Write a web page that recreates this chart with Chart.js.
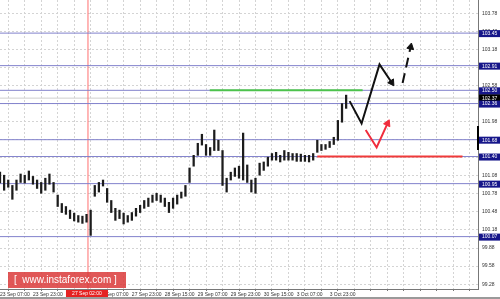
<!DOCTYPE html>
<html>
<head>
<meta charset="utf-8">
<script src="https://cdn.jsdelivr.net/npm/chart.js@4.4.0/dist/chart.umd.min.js"></script>
<style>
html, body { margin: 0; padding: 0; background: #fff; }
canvas { display: block; }
</style>
</head>
<body>
<canvas id="chart" width="500" height="299"></canvas>
<script>
// H1 chart, one bar kept every 2 hours (x = trading hour from 23 Sep 07:00)
const highs = [101.14, 101.09, 101.01, 100.92, 101.01, 101.11, 101.09, 101.16, 101.07, 101.01,
    100.97, 101.04, 101.11, 100.97, 100.76, 100.62, 100.57, 100.51, 100.46, 100.42,
    100.41, 100.44, 100.51, 100.92, 100.97, 101.01, 100.87, 100.67, 100.54, 100.51,
    100.46, 100.42, 100.47, 100.54, 100.59, 100.67, 100.71, 100.76, 100.79, 100.76,
    100.71, 100.64, 100.71, 100.76, 100.81, 100.92, 101.21, 101.42, 101.62, 101.77,
    101.60, 101.55, 101.84, 101.67, 101.50, 101.04, 101.14, 101.21, 101.24, 101.79,
    101.26, 101.01, 101.04, 101.29, 101.31, 101.39, 101.45, 101.47, 101.42, 101.50,
    101.47, 101.45, 101.45, 101.44, 101.42, 101.42, 101.45, 101.67, 101.60, 101.60,
    101.65, 101.72, 102.00, 102.28, 102.42];
const lows = [100.96, 100.84, 100.89, 100.69, 100.84, 100.97, 100.96, 101.01, 100.94, 100.87,
    100.79, 100.84, 100.94, 100.81, 100.57, 100.47, 100.44, 100.37, 100.33, 100.31,
    100.29, 100.31, 100.09, 100.74, 100.81, 100.91, 100.64, 100.47, 100.34, 100.37,
    100.28, 100.31, 100.34, 100.41, 100.47, 100.54, 100.57, 100.64, 100.67, 100.64,
    100.57, 100.47, 100.54, 100.61, 100.71, 100.74, 100.97, 101.24, 101.42, 101.59,
    101.42, 101.42, 101.50, 101.50, 100.92, 100.81, 101.01, 101.07, 101.04, 101.01,
    100.97, 100.81, 100.79, 101.09, 101.17, 101.24, 101.34, 101.34, 101.31, 101.34,
    101.34, 101.34, 101.32, 101.32, 101.32, 101.31, 101.34, 101.47, 101.50, 101.52,
    101.55, 101.60, 101.67, 101.97, 102.20];

const timeLabels = ['23 Sep 07:00', '23 Sep 23:00', '26 Sep 15:00', '27 Sep 07:00', '27 Sep 23:00',
    '28 Sep 15:00', '29 Sep 07:00', '29 Sep 23:00', '30 Sep 15:00', '3 Oct 07:00', '3 Oct 23:00'];
const priceTicks = [99.28, 99.58, 99.88, 100.18, 100.48, 100.78, 101.08, 101.38, 101.68, 101.98,
    102.28, 102.58, 102.88, 103.18, 103.48, 103.78];

const levels = [103.45, 102.91, 102.50, 102.28, 101.68, 101.40, 100.95, 100.07];
const levelLabels = ['103.45', '102.91', '102.50', '102.36', '101.68', '101.40', '100.95', '100.07'];
const lastPrice = 102.37;
const markerTime = 42.7;
const markerLabel = '27 Sep 02:00';

// drawn forecast paths [hour, price]
const greenZone = [[101.8, 102.50], [176, 102.50]];
const redZone = [[154, 101.40], [224.5, 101.40]];
const blackPath = [[169.7, 102.32], [175.5, 101.95], [184.2, 102.93], [190.1, 102.63]];
const blackDash = [[195.4, 102.62], [199.3, 103.22]];
const redPath = [[177.5, 101.84], [182.8, 101.55], [188.1, 101.95]];

const X_MAX = 232, Y_MIN = 99.2, Y_MAX = 104.0;
const FONT = 'Liberation Sans';

const pts = arr => arr.map(p => ({ x: p[0], y: p[1] }));

function lineSet(data, color, width, extra) {
    return Object.assign({
        type: 'line', data: data, borderColor: color, backgroundColor: color,
        borderWidth: width, pointRadius: 0, tension: 0, order: 2
    }, extra || {});
}

function arrowSet(data, color, rotation, extra) {
    const n = data.length;
    return lineSet(pts(data), color, 2, Object.assign({
        pointStyle: 'triangle',
        pointRadius: data.map((p, i) => i === n - 1 ? 4 : 0),
        pointRotation: rotation,
        pointBorderWidth: 1,
        order: 0
    }, extra || {}));
}

const datasets = [];
levels.forEach(v => {
    datasets.push(lineSet([{ x: 0, y: v }, { x: X_MAX, y: v }], '#8282cc', 1, { order: 3 }));
});
datasets.push(lineSet([{ x: 0, y: lastPrice }, { x: X_MAX, y: lastPrice }], '#cfcfcf', 1, { order: 4 }));
datasets.push(lineSet([{ x: markerTime, y: Y_MIN }, { x: markerTime, y: Y_MAX }], '#ff7070', 1, { order: 3 }));
datasets.push(lineSet(pts(greenZone), '#4cc24c', 2, { order: 1 }));
datasets.push(lineSet(pts(redZone), '#f03a3a', 2, { order: 1 }));
datasets.push({
    type: 'bar',
    data: highs.map((h, i) => ({ x: i * 2, y: [lows[i], h] })),
    backgroundColor: '#1c1c1c',
    barThickness: 1.6,
    order: 1
});
datasets.push(arrowSet(blackPath, '#111', 146));
datasets.push(arrowSet(blackDash, '#111', 12, { borderDash: [10, 6] }));
datasets.push(arrowSet(redPath, '#f02c3c', 25));

const overlay = {
    id: 'overlay',
    afterDraw(chart) {
        const ctx = chart.ctx;
        const y = chart.scales.y, x = chart.scales.x;
        const area = chart.chartArea;
        ctx.save();
        ctx.font = '5px "' + FONT + '"';
        ctx.textBaseline = 'middle';
        // current price box
        let py = y.getPixelForValue(lastPrice);
        ctx.fillStyle = '#000';
        ctx.fillRect(area.right + 1, py - 4, 21, 7);
        ctx.fillStyle = '#fff';
        ctx.fillText(lastPrice.toFixed(2), area.right + 4, py);
        // level boxes
        levels.forEach((v, i) => {
            const ly = y.getPixelForValue(v);
            ctx.fillStyle = '#16168a';
            ctx.fillRect(area.right + 1, ly - 3, 21, 7);
            ctx.fillStyle = '#fff';
            ctx.fillText(levelLabels[i], area.right + 4, ly + 0.5);
        });
        // scroll marker on the price axis
        ctx.fillStyle = '#000';
        ctx.fillRect(area.right - 1, 126, 2, 24);
        // marker time box under the axis
        const mx = x.getPixelForValue(markerTime);
        ctx.fillStyle = '#e52222';
        ctx.fillRect(mx - 22, area.bottom + 1, 42, 7);
        ctx.fillStyle = '#fff';
        ctx.textAlign = 'center';
        ctx.fillText(markerLabel, mx - 1, area.bottom + 4.5);
        // watermark
        ctx.fillStyle = 'rgba(218, 58, 58, 0.85)';
        ctx.fillRect(8, 272, 118, 16);
        ctx.fillStyle = '#fff';
        ctx.font = '10px "Liberation Sans"';
        ctx.textAlign = 'left';
        ctx.fillText('[  www.instaforex.com ]', 14, 280.5);
        // bottom frame
        ctx.fillStyle = '#9a9a9a';
        ctx.fillRect(0, 297, 500, 2);
        ctx.restore();
    }
};

new Chart(document.getElementById('chart'), {
    type: 'bar',
    data: { datasets: datasets },
    options: {
        responsive: false,
        animation: false,
        layout: { padding: 0, autoPadding: false },
        plugins: { legend: { display: false }, tooltip: { enabled: false } },
        scales: {
            x: {
                type: 'linear', min: 0, max: X_MAX, offset: false,
                afterBuildTicks: s => {
                    const t = [];
                    for (let v = 0; v <= X_MAX; v += 8) t.push({ value: v });
                    s.ticks = t;
                },
                afterFit: s => { s.height = 10; s.paddingLeft = 0; s.paddingRight = 0; },
                grid: { color: '#d4d4d4', tickLength: 2, tickColor: '#777' },
                border: { color: '#777', dash: [2, 2] },
                ticks: {
                    align: 'start', maxRotation: 0, autoSkip: false, padding: 1,
                    color: '#333', font: { size: 5, family: FONT },
                    callback: v => (v % 16 === 0 && timeLabels[v / 16]) ? timeLabels[v / 16] : ''
                }
            },
            y: {
                position: 'right', min: Y_MIN, max: Y_MAX,
                afterBuildTicks: s => { s.ticks = priceTicks.map(v => ({ value: v })); },
                afterFit: s => { s.width = 22; s.paddingTop = 0; s.paddingBottom = 0; },
                grid: { color: '#d4d4d4', drawTicks: false },
                border: { color: '#777', dash: [2, 2] },
                ticks: {
                    padding: 4, color: '#333', font: { size: 5, family: FONT },
                    callback: v => v.toFixed(2)
                }
            }
        }
    },
    plugins: [overlay]
});
</script>
</body>
</html>
